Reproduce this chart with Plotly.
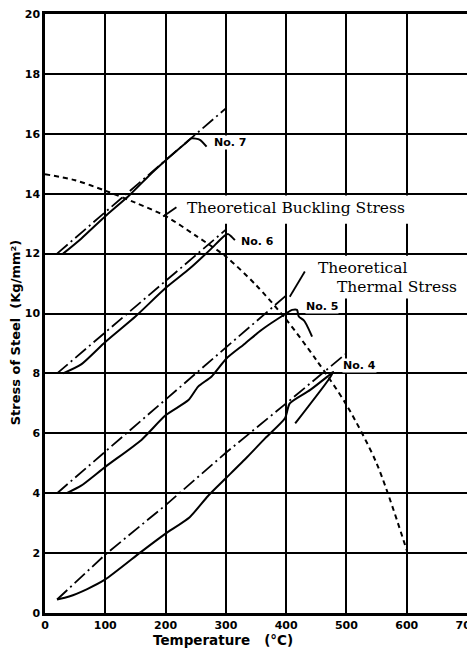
import plotly.graph_objects as go

# ---------------- data ----------------
# Theoretical thermal stress lines (dash-dot)
theo7_x = [20, 300]
theo7_y = [12.0, 16.85]
theo6_x = [20, 300]
theo6_y = [8.0, 12.8]
theo5_x = [20, 400]
theo5_y = [4.0, 10.6]
theo4_x = [20, 100, 200, 300, 400, 500]
theo4_y = [0.45, 1.95, 3.6, 5.35, 7.0, 8.67]

# Measured stress (solid)
meas7_x = [30, 60, 100, 140, 175, 205, 235, 243, 257, 268]
meas7_y = [12.0, 12.5, 13.25, 13.95, 14.65, 15.2, 15.72, 15.85, 15.8, 15.57]
meas6_x = [30, 60, 100, 150, 200, 240, 275, 298, 304, 310, 315]
meas6_y = [8.0, 8.3, 9.05, 9.9, 10.85, 11.5, 12.15, 12.6, 12.65, 12.55, 12.45]
meas5_x = [36, 60, 100, 160, 200, 238, 254, 276, 301, 332, 359, 400, 410, 418, 421, 429, 434, 443]
meas5_y = [4.0, 4.25, 4.88, 5.78, 6.6, 7.11, 7.56, 7.89, 8.5, 9.0, 9.45, 10.0, 10.12, 10.12, 9.9, 9.78, 9.62, 9.23]
meas4_x = [20, 40, 70, 100, 160, 200, 240, 270, 300, 335, 365, 398, 406, 440, 470, 478, 470, 415]
meas4_y = [0.45, 0.55, 0.8, 1.12, 2.05, 2.65, 3.2, 3.9, 4.5, 5.2, 5.83, 6.5, 7.0, 7.45, 7.92, 8.05, 7.78, 6.33]

# Theoretical buckling stress (short dashes)
buck_x = [0, 50, 100, 150, 200, 250, 300, 350, 400, 450, 500, 550, 600]
buck_y = [14.65, 14.45, 14.1, 13.7, 13.25, 12.6, 11.9, 10.95, 9.8, 8.45, 6.95, 5.0, 2.1]

# Specimen labels
spec_labels = ["No. 7", "No. 6", "No. 5", "No. 4"]
spec_label_x = [279, 323, 432, 492]
spec_label_y = [15.7, 12.4, 10.25, 8.25]

x_ticks = [0, 100, 200, 300, 400, 500, 600, 700]
y_ticks = [0, 2, 4, 6, 8, 10, 12, 14, 16, 18, 20]

# ---------------- figure ----------------
fig = go.Figure()

DASHDOT = "14px,4px,2px,4px"
for tx, ty in [(theo7_x, theo7_y), (theo6_x, theo6_y), (theo5_x, theo5_y), (theo4_x, theo4_y)]:
    fig.add_trace(go.Scatter(x=tx, y=ty, mode="lines",
                             line=dict(color="black", width=1.8, dash=DASHDOT),
                             showlegend=False, hoverinfo="skip"))

for mx, my in [(meas7_x, meas7_y), (meas6_x, meas6_y), (meas5_x, meas5_y), (meas4_x, meas4_y)]:
    fig.add_trace(go.Scatter(x=mx, y=my, mode="lines",
                             line=dict(color="black", width=2, shape="spline", smoothing=0.6),
                             showlegend=False, hoverinfo="skip"))

fig.add_trace(go.Scatter(x=buck_x, y=buck_y, mode="lines",
                         line=dict(color="black", width=2, dash="5px,4px", shape="spline", smoothing=0.8),
                         showlegend=False, hoverinfo="skip"))

# white boxes behind text (cover gridlines but not curves)
shapes = [
    dict(type="rect", xref="x", yref="y", x0=212, x1=610, y0=13.0, y1=13.94,
         fillcolor="white", line=dict(width=0), layer="between"),
    dict(type="rect", xref="x", yref="y", x0=440, x1=696, y0=10.5, y1=11.93,
         fillcolor="white", line=dict(width=0), layer="between"),
    # leader lines
    dict(type="line", xref="x", yref="y", x0=218, y0=13.55, x1=196, y1=13.24,
         line=dict(color="black", width=1.8)),
    dict(type="line", xref="x", yref="y", x0=431, y0=11.4, x1=406, y1=10.56,
         line=dict(color="black", width=1.8)),
]

annotations = []
for t, lx, ly in zip(spec_labels, spec_label_x, spec_label_y):
    annotations.append(dict(x=lx, y=ly, xref="x", yref="y", text=t, showarrow=False,
                            xanchor="left", yanchor="middle", bgcolor="white", borderpad=0,
                            font=dict(family="DejaVu Sans", size=11, color="black", weight="bold")))

serif = dict(family="DejaVu Serif", size=15.5, color="black")
annotations += [
    dict(x=417, y=13.52, xref="x", yref="y", text="Theoretical Buckling Stress",
         showarrow=False, xanchor="center", yanchor="middle", font=serif),
    dict(x=450, y=11.51, xref="x", yref="y", text="Theoretical",
         showarrow=False, xanchor="left", yanchor="middle", font=serif),
    dict(x=481, y=10.9, xref="x", yref="y", text="Thermal Stress",
         showarrow=False, xanchor="left", yanchor="middle", font=serif),
    dict(x=0.422, y=-0.045, xref="paper", yref="paper", text="Temperature   (°C)",
         showarrow=False, xanchor="center", yanchor="middle",
         font=dict(family="DejaVu Sans", size=13.5, color="black", weight="bold")),
    dict(x=-0.071, y=0.467, xref="paper", yref="paper", text="Stress of Steel  (Kg/mm²)",
         showarrow=False, xanchor="center", yanchor="middle", textangle=-90,
         font=dict(family="DejaVu Sans", size=13, color="black", weight="bold")),
]

tickfont = dict(family="DejaVu Sans", size=11, color="black", weight="bold")
fig.update_xaxes(range=[0, 700], tickvals=x_ticks, ticktext=[str(v) for v in x_ticks],
                 showgrid=True, gridcolor="black", gridwidth=2, zeroline=False,
                 showline=True, linecolor="black", linewidth=2.5, mirror=True,
                 ticks="", tickfont=tickfont, automargin=False, ticklabeloverflow="allow")
fig.update_yaxes(range=[0, 20], tickvals=y_ticks, ticktext=[str(v) for v in y_ticks],
                 showgrid=True, gridcolor="black", gridwidth=2, zeroline=False,
                 showline=True, linecolor="black", linewidth=2.5, mirror=True,
                 ticks="", tickfont=tickfont, automargin=False, ticklabeloverflow="allow")

# The page body has an 8px margin, so the figure is sized/offset to land the
# plot area at the reference's pixel positions.
fig.update_layout(width=467, height=640, autosize=False,
                  margin=dict(l=37, r=8, t=6, b=35),
                  paper_bgcolor="white", plot_bgcolor="white",
                  shapes=shapes, annotations=annotations, showlegend=False)

fig.write_html("out.html")
